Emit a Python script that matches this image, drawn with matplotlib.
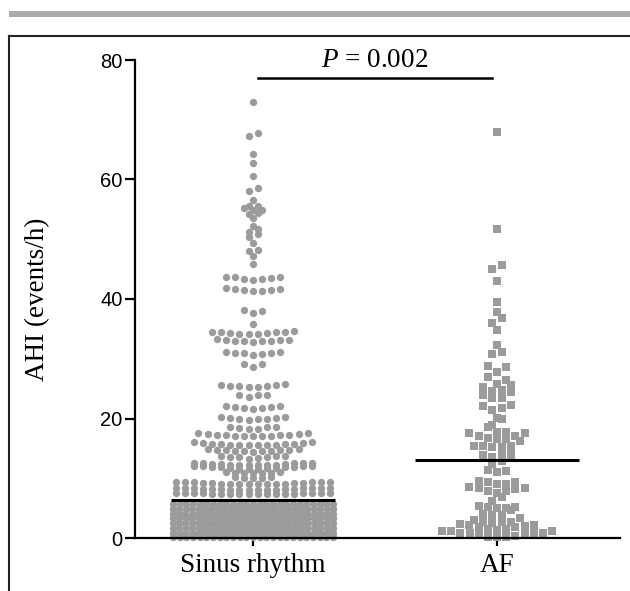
"""AHI by rhythm group: Prism-style scatter dot plot with medians."""
import numpy as np
import matplotlib
matplotlib.use("Agg")
import matplotlib.pyplot as plt
from matplotlib.lines import Line2D
from matplotlib.patches import Rectangle

plt.rcParams["mathtext.fontset"] = "custom"
plt.rcParams["mathtext.rm"] = "Liberation Serif"
plt.rcParams["mathtext.it"] = "Liberation Serif:italic"

GROUPS = ["Sinus rhythm", "AF"]

# sinus rhythm, read row by row from the top of the column
sinus_ahi = [
    73.0, 67.7, 67.2, 64.3, 62.8, 60.6, 58.5, 58.1, 56.5,
    55.6, 55.6, 55.3, 54.9, 54.9, 54.4, 54.3, 53.5,
    52.3, 51.7, 51.2, 50.8, 50.4, 49.3, 48.2, 48.1, 47.2, 45.8,
    43.7, 43.6, 43.6, 43.5, 43.4, 43.3, 43.2,
    41.9, 41.7, 41.7, 41.5, 41.5, 41.4, 41.4,
    38.1, 38.0, 37.6, 35.8,
    34.6, 34.5, 34.5, 34.4, 34.4, 34.3, 34.3, 34.2, 34.2, 34.1,
    33.3, 33.2, 33.2, 33.1, 33.0, 33.0, 32.9, 32.9, 32.8,
    31.1, 31.1, 31.0, 31.0, 30.9, 30.8, 30.6,
    29.2, 29.1, 28.7,
    25.7, 25.6, 25.6, 25.5, 25.5, 25.4, 25.3, 25.2,
    24.0, 23.9, 23.9, 23.6,
    22.1, 22.1, 22.0, 22.0, 21.8, 21.8, 21.6,
    20.3, 20.2, 20.1, 20.1, 20.0, 20.0, 19.9, 19.8,
    18.6, 18.6, 18.5, 18.4, 18.3, 18.2,
    17.5, 17.5, 17.4, 17.4, 17.3, 17.3, 17.2, 17.2, 17.1, 17.1, 17.0, 17.0, 17.0,
    16.0, 16.0, 15.9, 15.9, 15.8, 15.8, 15.7, 15.7, 15.6, 15.6, 15.5, 15.5, 15.5, 15.5,
    14.9, 14.9, 14.8, 14.8, 14.7, 14.7, 14.6, 14.6, 14.5, 14.5, 14.4,
    13.8, 13.8, 13.7, 13.6, 13.5, 13.5, 13.4, 13.3,
    12.6, 12.6, 12.5, 12.5, 12.5, 12.4, 12.4, 12.4, 12.3, 12.3, 12.3, 12.2, 12.2, 12.2,
    12.1, 12.1, 12.1, 12.1,
    11.9, 11.9, 11.8, 11.8, 11.7, 11.7, 11.7, 11.6, 11.6, 11.6,
    11.0, 11.0, 10.9, 10.9, 10.9, 10.8, 10.8,
    10.2, 10.2, 10.1, 10.1, 10.0,
    9.4, 9.4, 9.4, 9.3, 9.3, 9.3, 9.2, 9.2, 9.2, 9.2, 9.1, 9.1, 9.1, 9.1, 9.0, 9.0, 9.0, 9.0,
    8.4, 8.4, 8.4, 8.3, 8.3, 8.3, 8.3, 8.2, 8.2, 8.2, 8.2, 8.2, 8.1, 8.1, 8.1, 8.1, 8.1, 8.1,
    7.6, 7.6, 7.6, 7.5, 7.5, 7.5, 7.5, 7.5, 7.4, 7.4, 7.4, 7.4, 7.4, 7.3, 7.3, 7.3, 7.3, 7.3,
]
# dense base of the sinus column (dots overlap): row level and dots per row
sinus_base_levels = [0.1, 0.9, 1.7, 2.5, 3.3, 4.1, 4.9, 5.7]
sinus_base_counts = [25, 27, 26, 27, 26, 27, 26, 25]

af_ahi = [
    68.0, 51.7, 45.7, 45.0, 43.0, 39.5, 37.9, 36.8, 36.0, 34.8,
    32.3, 31.1, 30.8, 28.8, 28.6, 27.7, 26.9, 26.4, 25.8, 25.6,
    25.2, 24.8, 24.6, 24.5, 24.0, 23.5, 23.4, 22.3, 22.1, 21.8,
    21.4, 20.1, 20.0, 18.9, 18.5, 17.8, 17.7, 17.5, 17.5, 17.1,
    17.0, 16.7, 16.5, 16.5, 16.3, 15.4, 15.4, 15.4, 15.3, 15.3,
    14.6, 13.9, 13.9, 13.6, 13.4, 13.4,
    12.9, 12.4, 11.4, 11.2, 11.0, 9.6,
    9.3, 9.3, 9.0, 9.0, 8.5, 8.4, 8.3, 8.2, 7.8, 7.8, 7.5,
    6.8, 6.2,
    5.4, 5.2, 5.2, 5.0, 5.0, 4.7, 4.0, 3.8, 3.8,
    3.4, 3.0, 2.7, 2.7, 2.6, 2.5, 2.3, 2.2, 2.2, 2.0, 1.9, 1.9,
    1.5, 1.5, 1.3, 1.2, 1.1, 1.1, 0.9, 0.9, 0.8, 0.8, 0.8, 0.7,
    0.3, 0.2, 0.2, 0.1,
]

medians = [6.4, 13.0]
p_label = "$P$ = 0.002"

PX = 244.0  # pixels per x unit
DOT = "#9b9b9b"


def swarm_x(values, centre, step, max_half, row_h):
    """Prism-like rows: lowest value of a row in the middle, others fanned out."""
    v = np.sort(np.asarray(values, dtype=float))
    xs = np.empty_like(v)
    i = 0
    while i < len(v):
        j = i
        while j < len(v) and v[j] < v[i] + row_h:
            j += 1
        n = j - i
        d = step if n == 1 else min(step, 2 * max_half / (n - 1))
        slots = np.array([((k + 1) // 2) * (1 if k % 2 else -1) for k in range(n)], float)
        if n % 2 == 0:
            slots -= 0.5
        xs[i:j] = centre + slots * d
        i = j
    return xs, v


sinus_all = list(sinus_ahi) + list(np.repeat(sinus_base_levels, sinus_base_counts))

fig = plt.figure(figsize=(6.3, 5.91), dpi=100)
ax = fig.add_axes([135 / 630, 53 / 591, 485 / 630, 478 / 591])

sx, sy = swarm_x(sinus_all, 0, 9.1 / PX, 80 / PX, row_h=0.6)
ax.scatter(sx, sy, s=28, marker="o", color=DOT, linewidths=0, clip_on=False, zorder=2)
fx, fy = swarm_x(af_ahi, 1, 9.2 / PX, 55 / PX, row_h=1.2)
ax.scatter(fx, fy, s=26, marker="s", color=DOT, linewidths=0, clip_on=False, zorder=2)

for i, m in enumerate(medians):
    ax.hlines(m, i - 0.337, i + 0.337, color="black", lw=2.2, zorder=3)

ax.plot([0.02, 0.98], [77.0, 77.0], color="black", lw=1.8, clip_on=False)
ax.text(0.5, 77.9, p_label, ha="center", va="bottom", fontsize=19.5,
        family="Liberation Serif")

ax.set_xlim(-0.484, 1.504)
ax.set_ylim(0, 80)
for side in ("top", "right"):
    ax.spines[side].set_visible(False)
for side in ("left", "bottom"):
    ax.spines[side].set_linewidth(1.6)

ax.set_yticks([0, 20, 40, 60, 80])
ax.set_xticks([0, 1])
ax.set_xticklabels(GROUPS, family="Liberation Serif", fontsize=19.5)
for lab in ax.get_yticklabels():
    lab.set_family("Liberation Sans")
    lab.set_fontsize(14.5)
ax.tick_params(axis="y", length=7, width=1.6, pad=2)
ax.tick_params(axis="x", length=6, width=1.6, pad=5)

ax.set_ylabel("AHI (events/h)", family="Liberation Serif", fontsize=19.5)
ax.yaxis.set_label_coords(-0.175, 0.5)

# page furniture: grey rule on top and the open frame round the panel
fig.add_artist(Rectangle((9 / 630, 1 - 17 / 591), 1, 6 / 591,
                         transform=fig.transFigure, color="#aaaaaa", lw=0))
fig.add_artist(Line2D([9 / 630, 9 / 630], [0, 1 - 36 / 591],
                      transform=fig.transFigure, color="#222222", lw=1.5))
fig.add_artist(Line2D([9 / 630, 1], [1 - 36 / 591, 1 - 36 / 591],
                      transform=fig.transFigure, color="#222222", lw=1.5))

fig.savefig("out.png", dpi=100)
